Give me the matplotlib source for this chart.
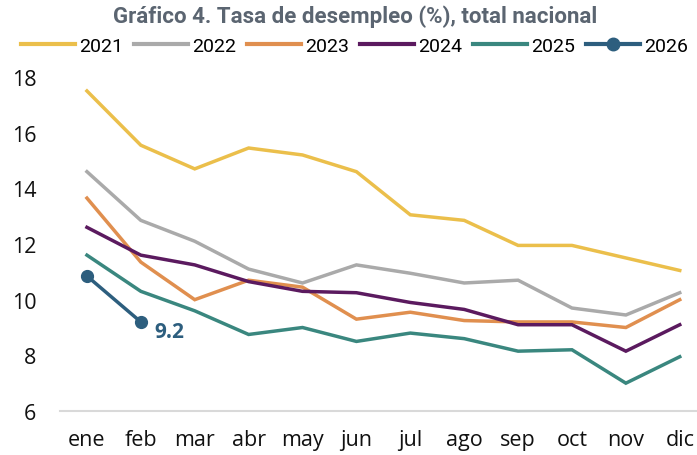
import matplotlib.pyplot as plt
from matplotlib.lines import Line2D

months = ["ene", "feb", "mar", "abr", "may", "jun", "jul", "ago", "sep", "oct", "nov", "dic"]

y2021 = [17.5, 15.55, 14.7, 15.45, 15.2, 14.6, 13.05, 12.85, 11.95, 11.95, 11.5, 11.05]
y2022 = [14.6, 12.85, 12.1, 11.1, 10.6, 11.25, 10.95, 10.6, 10.7, 9.7, 9.45, 10.25]
y2023 = [13.65, 11.35, 10.0, 10.7, 10.45, 9.3, 9.55, 9.25, 9.2, 9.2, 9.0, 10.0]
y2024 = [12.6, 11.6, 11.25, 10.65, 10.3, 10.25, 9.9, 9.65, 9.1, 9.1, 8.15, 9.1]
y2025 = [11.6, 10.3, 9.6, 8.75, 9.0, 8.5, 8.8, 8.6, 8.15, 8.2, 7.0, 7.95]
y2026 = [10.85, 9.2]

series = [("2021", y2021, "#ebbf4b"),
          ("2022", y2022, "#aaaaaa"),
          ("2023", y2023, "#e08f4f"),
          ("2024", y2024, "#5b1a5f"),
          ("2025", y2025, "#3a877f")]
c2026 = "#2d5e7e"

plt.rcParams['font.family'] = ['Open Sans', 'DejaVu Sans']

fig = plt.figure(figsize=(6.97, 4.56), dpi=100)
ax = fig.add_axes([60 / 697, 1 - 412 / 456, 1 - 60 / 697, (412 - 69.7) / 456])

x = list(range(len(months)))
for name, vals, col in series:
    ax.plot(x, vals, color=col, lw=2.5, solid_joinstyle="miter")

ax.plot(x[:len(y2026)], y2026, color=c2026, lw=2.5, marker="o", ms=8.5)
ax.annotate(f"{y2026[-1]:.1f}", (x[len(y2026) - 1], y2026[-1]),
            xytext=(10, -7), textcoords="offset points",
            color=c2026, fontsize=15, fontweight="bold", va="center", ha="left")

ax.set_xlim(-0.5, 11.32)
ax.set_ylim(6, 18.3)
ax.set_yticks([6, 8, 10, 12, 14, 16, 18])
ax.set_xticks(x)
ax.set_xticklabels(months)
ax.tick_params(length=0, labelsize=15.5, colors="#111111")
ax.tick_params(axis="y", pad=17)
ax.tick_params(axis="x", pad=13)
for s in ["top", "right", "left"]:
    ax.spines[s].set_visible(False)
ax.spines["bottom"].set_color("#d9d9d9")
ax.spines["bottom"].set_linewidth(1.5)

handles = [Line2D([], [], color=col, lw=3) for _, _, col in series]
handles.append(Line2D([], [], color=c2026, lw=3, marker="o", ms=9))
labels = [s[0] for s in series] + ["2026"]
fig.legend(handles, labels, loc="center", bbox_to_anchor=(354.5 / 697, 1 - 47 / 456), ncol=6,
           frameon=False, prop={"family": ["Roboto", "DejaVu Sans"], "size": 14},
           handlelength=2.8, handletextpad=0.2, columnspacing=0.55, borderaxespad=0,
           borderpad=0)

fig.text(355 / 697, 1 - 17 / 456, "Gráfico 4. Tasa de desempleo (%), total nacional",
         ha="center", va="center", fontsize=16, fontweight="bold", color="#5b6571",
         family=["Roboto", "DejaVu Sans"])

fig.savefig("out.png", dpi=100)
